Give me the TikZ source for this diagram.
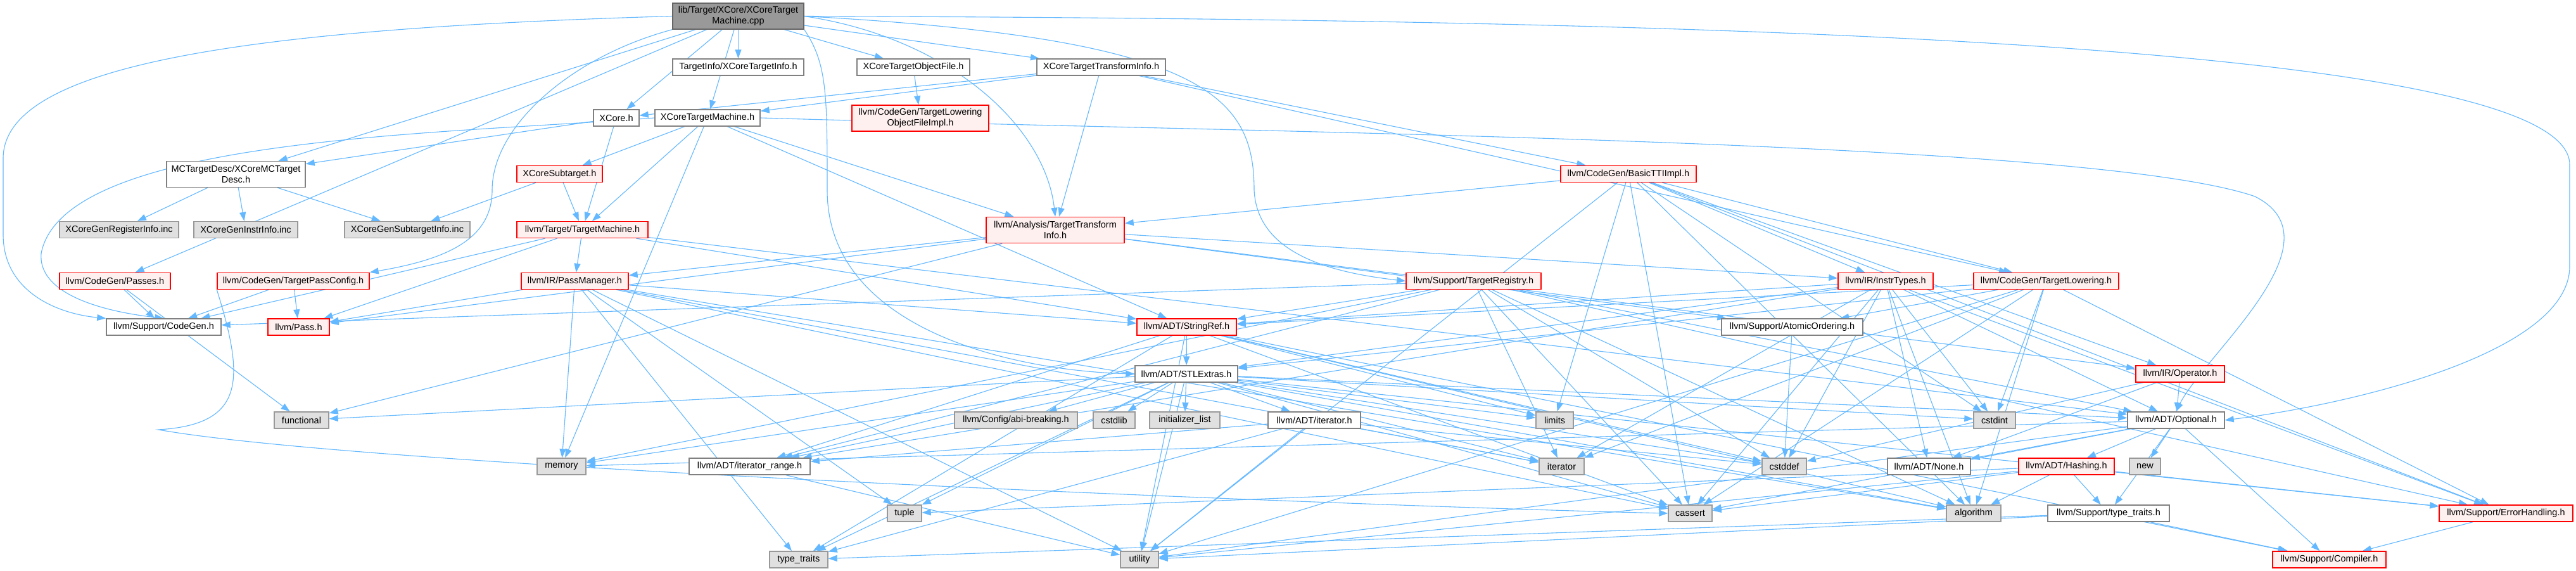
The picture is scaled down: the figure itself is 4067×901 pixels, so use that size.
\documentclass[tikz,border=0pt]{standalone}
\usepackage{fontspec}
\setmainfont{Liberation Sans}
\usetikzlibrary{arrows.meta,backgrounds}
\definecolor{edgeblue}{HTML}{63B8FF}
\definecolor{truncfill}{HTML}{FFF0F0}
\definecolor{sysfill}{HTML}{E0E0E0}
\definecolor{sysline}{HTML}{999999}
\definecolor{rootfill}{HTML}{999999}
\definecolor{rootline}{HTML}{666666}
\definecolor{fileline}{HTML}{808080}

\begin{document}
\begin{tikzpicture}[x=1pt,y=-1pt,
    file/.style={draw=fileline, fill=white, line width=1.4pt, minimum height=26pt,
        inner sep=0pt, align=center, font=\fontsize{14.5}{16.5}\selectfont},
    trunc/.style={file, draw=red, fill=truncfill},
    sysfile/.style={file, draw=sysline, fill=sysfill},
    rootfile/.style={file, draw=rootline, fill=rootfill},
    tall/.style={minimum height=41pt},
    incl/.style={draw=edgeblue, line width=1.1pt, -{Triangle[length=14pt,width=10pt]}}]
    \useasboundingbox (0,0) rectangle (4067,901);

    % row 1-4
    \node[rootfile, tall, minimum width=207pt] (root) at (1165.5,25.5) {lib/Target/XCore/XCoreTarget\\Machine.cpp};
    \node[file, minimum width=207pt] (tinfo) at (1165.5,106) {TargetInfo/XCoreTargetInfo.h};
    \node[file, minimum width=178pt] (tobj) at (1442,106) {XCoreTargetObjectFile.h};
    \node[file, minimum width=203pt] (xtti) at (1738.5,106) {XCoreTargetTransformInfo.h};
    \node[file, minimum width=72pt] (xcore) at (973,186) {XCore.h};
    \node[file, minimum width=166pt] (xtm) at (1117,186) {XCoreTargetMachine.h};
    \node[trunc, tall, minimum width=216pt] (tlof) at (1453,186.5) {llvm/CodeGen/TargetLowering\\ObjectFileImpl.h};
    \node[file, tall, minimum width=219pt] (mcdesc) at (372.5,275) {MCTargetDesc/XCoreMCTarget\\Desc.h};
    \node[trunc, minimum width=135pt] (subtgt) at (883.5,274.5) {XCoreSubtarget.h};
    \node[trunc, minimum width=214pt] (basictti) at (2571,274.5) {llvm/CodeGen/BasicTTIImpl.h};

    % row 5-6
    \node[sysfile, minimum width=188pt] (genreg) at (188,362.5) {XCoreGenRegisterInfo.inc};
    \node[sysfile, minimum width=164pt] (geninstr) at (388,362.5) {XCoreGenInstrInfo.inc};
    \node[sysfile, minimum width=198pt] (gensub) at (643,362.5) {XCoreGenSubtargetInfo.inc};
    \node[trunc, minimum width=207pt] (tm) at (919.5,362.5) {llvm/Target/TargetMachine.h};
    \node[trunc, tall, minimum width=218pt] (atti) at (1666,363) {llvm/Analysis/TargetTransform\\Info.h};
    \node[trunc, minimum width=175pt] (passes) at (181.5,443.5) {llvm/CodeGen/Passes.h};
    \node[trunc, minimum width=240pt] (tpc) at (463,443.5) {llvm/CodeGen/TargetPassConfig.h};
    \node[trunc, minimum width=169pt] (pm) at (907.5,443.5) {llvm/IR/PassManager.h};
    \node[trunc, minimum width=213pt] (treg) at (2326.5,443.5) {llvm/Support/TargetRegistry.h};
    \node[trunc, minimum width=150pt] (instr) at (2977,443.5) {llvm/IR/InstrTypes.h};
    \node[trunc, minimum width=229pt] (tl) at (3230.5,443.5) {llvm/CodeGen/TargetLowering.h};

    % row 7-8
    \node[file, minimum width=181pt] (cg) at (258.5,516) {llvm/Support/CodeGen.h};
    \node[trunc, minimum width=97pt] (pass) at (471.5,516) {llvm/Pass.h};
    \node[trunc, minimum width=157pt] (sref) at (1873.5,516) {llvm/ADT/StringRef.h};
    \node[file, minimum width=223pt] (atomic) at (2829.5,516) {llvm/Support/AtomicOrdering.h};
    \node[file, minimum width=162pt] (stl) at (1873,590) {llvm/ADT/STLExtras.h};
    \node[trunc, minimum width=140pt] (op) at (3442,590) {llvm/IR/Operator.h};

    % row 9
    \node[sysfile, minimum width=86pt] (functional) at (476,663) {functional};
    \node[sysfile, minimum width=194pt] (abi) at (1604,663) {llvm/Config/abi-breaking.h};
    \node[sysfile, minimum width=66pt] (cstdlib) at (1759,663) {cstdlib};
    \node[sysfile, minimum width=111pt] (initlist) at (1870.5,663) {initializer\_list};
    \node[file, minimum width=146pt] (iterh) at (2075,663) {llvm/ADT/iterator.h};
    \node[sysfile, minimum width=59pt] (limits) at (2454.5,663) {limits};
    \node[sysfile, minimum width=66pt] (cstdint) at (3149,663) {cstdint};
    \node[file, minimum width=153pt] (optional) at (3435.5,663) {llvm/ADT/Optional.h};

    % row 10
    \node[sysfile, minimum width=77pt] (memory) at (886.5,736) {memory};
    \node[file, minimum width=191pt] (itrange) at (1183.5,736) {llvm/ADT/iterator\_range.h};
    \node[sysfile, minimum width=71pt] (iterator) at (2465.5,736) {iterator};
    \node[sysfile, minimum width=70pt] (cstddef) at (2817,736) {cstddef};
    \node[file, minimum width=131pt] (none) at (3045.5,736) {llvm/ADT/None.h};
    \node[trunc, minimum width=151pt] (hashing) at (3262.5,736) {llvm/ADT/Hashing.h};
    \node[sysfile, minimum width=49pt] (new) at (3386.5,736) {new};

    % row 11-12
    \node[sysfile, minimum width=54pt] (tuple) at (1428,810) {tuple};
    \node[sysfile, minimum width=69pt] (cassert) at (2668.5,810) {cassert};
    \node[sysfile, minimum width=86pt] (algorithm) at (3116,810) {algorithm};
    \node[file, minimum width=192pt] (stt) at (3329,810) {llvm/Support/type\_traits.h};
    \node[trunc, minimum width=211pt] (errh) at (3956.5,810) {llvm/Support/ErrorHandling.h};
    \node[sysfile, minimum width=92pt] (typetraits) at (1261,883) {type\_traits};
    \node[sysfile, minimum width=60pt] (utility) at (1799,883) {utility};
    \node[trunc, minimum width=179pt] (compiler) at (3677.5,883) {llvm/Support/Compiler.h};

    \begin{pgfonlayer}{background}
    \fill[white] (0,0) rectangle (4067,901);
    % includes of the .cpp
    \foreach \t in {xtm,mcdesc,tinfo,xcore,tobj,xtti,passes}
        \draw[incl] (root) -- (\t);
    \draw[incl] (root.south west) .. controls (900,90) and (777,200) .. (777,300) .. controls (777,380) and (700,410) .. (tpc.north east);
    \draw[incl] (root.west) .. controls (400,45) and (5,100) .. (5,250) -- (5,370) .. controls (5,460) and (90,495) .. (cg.north west);
    \draw[incl] (root.east) .. controls (2600,30) and (4057,60) .. (4057,260) -- (4057,420) .. controls (4057,560) and (3700,640) .. (optional.east);
    \draw[incl] (root.east) .. controls (1900,60) and (1980,150) .. (1980,300) .. controls (1985,400) and (2100,430) .. (treg.west);
    \draw[incl] (root.east) .. controls (1500,60) and (1650,200) .. (atti.north);
    \draw[incl] (root.south east) .. controls (1306,100) and (1306,150) .. (1306,300) .. controls (1306,520) and (1600,585) .. (stl.west);
    % XCore headers
    \foreach \t in {subtgt,sref,atti,tm,memory}
        \draw[incl] (xtm) -- (\t);
    \draw[incl] (xtm.west) .. controls (700,212) and (100,215) .. (65,400) .. controls (60,460) and (150,490) .. (cg.north);
    \draw[incl] (xtm.east) .. controls (2000,210) and (3300,220) .. (3560,310) .. controls (3700,380) and (3480,560) .. (optional.north);
    \foreach \t in {mcdesc,tm}
        \draw[incl] (xcore) -- (\t);
    \foreach \t in {genreg,geninstr,gensub}
        \draw[incl] (mcdesc) -- (\t);
    \foreach \t in {gensub,tm}
        \draw[incl] (subtgt) -- (\t);
    \draw[incl] (tobj) -- (tlof);
    \foreach \t in {xcore,xtm,atti,basictti,tl}
        \draw[incl] (xtti) -- (\t);
    % llvm headers
    \foreach \t in {atti,tl,instr,op,errh,algorithm,cassert,cstdint,limits,utility}
        \draw[incl] (basictti) -- (\t);
    \foreach \t in {optional,sref,pm,pass,cg}
        \draw[incl] (tm) -- (\t);
    \foreach \t in {instr,op,pm,pass,atomic,functional}
        \draw[incl] (atti) -- (\t);
    \foreach \t in {sref,pass,algorithm,cassert,iterator,memory,tuple,typetraits,utility}
        \draw[incl] (pm) -- (\t);
    \foreach \t in {optional,sref,itrange,cg,errh,algorithm,cassert,cstddef,iterator,memory}
        \draw[incl] (treg) -- (\t);
    \foreach \t in {none,optional,stl,sref,itrange,errh,algorithm,cassert,cstddef,cstdint,iterator}
        \draw[incl] (instr) -- (\t);
    \foreach \t in {none,optional,cstddef}
        \draw[incl] (op) -- (\t);
    \foreach \t in {stl,sref,atomic,errh,algorithm,cassert,cstdint,iterator,utility}
        \draw[incl] (tl) -- (\t);
    \foreach \t in {stl,itrange,compiler,algorithm,cassert,cstddef,limits,typetraits,utility}
        \draw[incl] (sref) -- (\t);
    \foreach \t in {optional,iterh,itrange,abi,errh,algorithm,cassert,cstddef,cstdint,cstdlib,functional,initlist,iterator,limits,memory,tuple,typetraits,utility}
        \draw[incl] (stl) -- (\t);
    \foreach \t in {itrange,cstddef,iterator,typetraits,utility}
        \draw[incl] (iterh) -- (\t);
    \draw[incl] (itrange) -- (utility);
    \foreach \t in {hashing,none,compiler,stt,cassert,memory,new,utility}
        \draw[incl] (optional) -- (\t);
    \foreach \t in {errh,stt,algorithm,cassert,tuple,utility}
        \draw[incl] (hashing) -- (\t);
    \foreach \t in {compiler,typetraits,utility}
        \draw[incl] (stt) -- (\t);
    \draw[incl] (errh) -- (compiler);
    \draw[incl] (atomic) -- (cstddef);
    \foreach \t in {pass,cg}
        \draw[incl] (tpc) -- (\t);
    \draw[incl] (tpc.south west) .. controls (387,600) and (387,670) .. (250,678) .. controls (600,740) and (2200,800) .. (cassert.west);
    \foreach \t in {cg,functional}
        \draw[incl] (passes) -- (\t);
    \end{pgfonlayer}
\end{tikzpicture}
\end{document}
